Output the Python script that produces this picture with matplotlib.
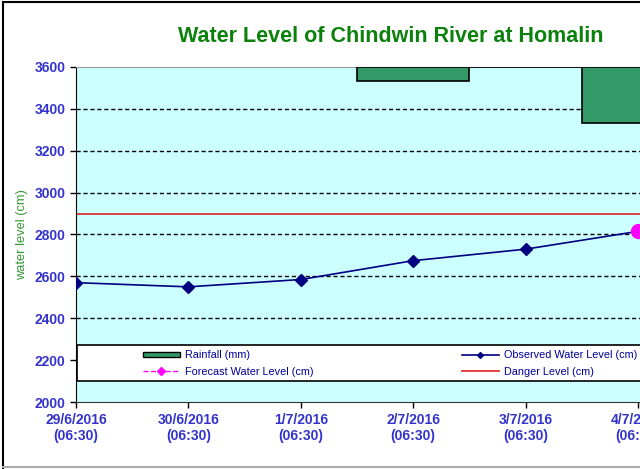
import matplotlib.pyplot as plt
from matplotlib.lines import Line2D
from matplotlib.patches import Rectangle
import numpy as np

plt.rcParams['font.family'] = ['Liberation Sans', 'DejaVu Sans']

# data
dates = ['29/6/2016\n(06:30)', '30/6/2016\n(06:30)', '1/7/2016\n(06:30)',
         '2/7/2016\n(06:30)', '3/7/2016\n(06:30)', '4/7/2016\n(06:30)']
observed = [2570, 2550, 2585, 2675, 2730, 2815]
forecast = [np.nan, np.nan, np.nan, np.nan, np.nan, 2815]
rainfall = [np.nan, np.nan, np.nan, 8.4, 0.0, 33.4]
danger_level = 2900

blue = '#3333CC'
x = np.arange(len(dates))

fig = plt.figure(figsize=(6.4, 4.69), dpi=100)
ax = fig.add_axes([76/640, 67/469, 6*112.4/640, 335/469])
ax.set_facecolor('#CCFFFF')

ax.set_xlim(0, 6)
ax.set_ylim(2000, 3600)
ax.set_yticks(range(2000, 3601, 200))
ax.set_xticks(x)
ax.set_xticklabels(dates)
ax.tick_params(direction='out', length=4, width=1, colors='black', labelcolor=blue,
               labelsize=10)
for lab in ax.get_xticklabels() + ax.get_yticklabels():
    lab.set_fontweight('bold')
ax.tick_params(axis='x', pad=4)

for g in range(2200, 3600, 200):
    ax.axhline(g, color='black', lw=1, ls=(0, (3, 2)), zorder=1)

ax.spines['left'].set_color('black')
ax.spines['bottom'].set_color('#333333')
ax.spines['top'].set_color('#999999')
ax.spines['right'].set_visible(False)

ax.axhline(danger_level, color='#E02020', lw=1.2, zorder=2)
ax.plot(x, observed, color='#000080', lw=1.2, marker='D', ms=6.5, zorder=3)
ax.plot(x, forecast, color='#FF00FF', ls='--', lw=1, marker='o', ms=10, zorder=4)

ax.set_ylabel('water level (cm)', color='#339933', fontsize=9.3, labelpad=5)

# rainfall hangs from the top on an inverted axis
ax2 = ax.twinx()
ax2.set_ylim(200, 0)
ax2.bar(x, rainfall, width=1.0, color='#339966', edgecolor='black', lw=1.2, zorder=2)
ax2.set_yticks([])
for s in ax2.spines.values():
    s.set_visible(False)

# legend box
ax.add_patch(Rectangle((0.01, 2100), 7, 172, facecolor='white', edgecolor='black',
                       lw=1.2, zorder=5))
fs = 7.8
h_rain = Rectangle((0, 0), 1, 1, facecolor='#339966', edgecolor='black', lw=1)
h_fc = Line2D([], [], color='#FF00FF', ls='--', lw=1, marker='D', ms=4)
h_obs = Line2D([], [], color='#000080', lw=1.2, marker='D', ms=3)
h_dl = Line2D([], [], color='#E02020', lw=1.2)
kw = dict(frameon=False, fontsize=fs, handlelength=3.4, handleheight=0.4,
          handletextpad=0.45, labelspacing=0.6, borderpad=0, borderaxespad=0,
          loc='center left', labelcolor='#000099')
leg1 = ax.legend([h_rain, h_fc], ['Rainfall (mm)', 'Forecast Water Level (cm)'],
                 bbox_to_anchor=(0.596, 2184), bbox_transform=ax.transData, **kw)
leg1.set_zorder(6)
ax.add_artist(leg1)
leg2 = ax.legend([h_obs, h_dl], ['Observed Water Level (cm)', 'Danger Level (cm)'],
                 bbox_to_anchor=(3.434, 2184), bbox_transform=ax.transData, **kw)
leg2.set_zorder(6)

fig.text(391/640, 1 - 36/469, 'Water Level of Chindwin River at Homalin',
         ha='center', va='center', fontsize=15.5, fontweight='bold', color='#0B800B')

# outer frame
fig.add_artist(Line2D([3/640, 3/640], [0.5/469, 1 - 2/469], color='black', lw=1.5))
fig.add_artist(Line2D([3/640, 1], [1 - 2/469, 1 - 2/469], color='black', lw=1.5))
fig.add_artist(Line2D([3/640, 1], [2/469, 2/469], color='#AAAAAA', lw=1.5))

fig.savefig('out.png', dpi=100)
